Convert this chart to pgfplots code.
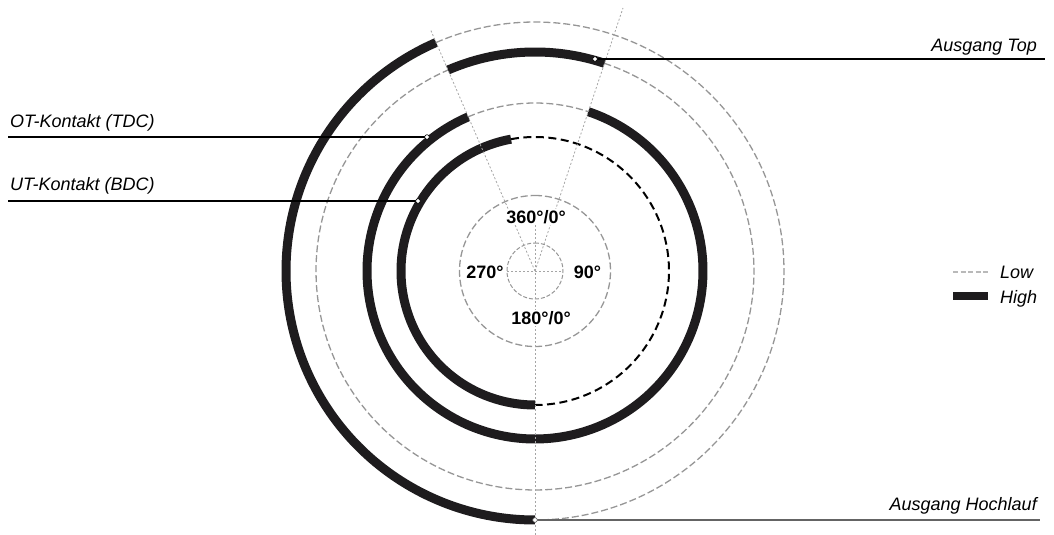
\documentclass[border=0pt]{standalone}
\usepackage{fontspec}
\setmainfont{Liberation Sans}
\usepackage{pgfplots}
\pgfplotsset{compat=1.18}
\definecolor{thickc}{RGB}{30,28,30}
\definecolor{lowgray}{RGB}{150,150,150}
\definecolor{guidec}{RGB}{165,165,165}
\definecolor{leggray}{RGB}{185,185,185}
\newcommand{\lab}{\fontsize{18bp}{21bp}\selectfont\itshape}
\newcommand{\degf}{\fontsize{18bp}{21bp}\selectfont\bfseries}
\begin{document}
\begin{tikzpicture}
\useasboundingbox (0,0) rectangle (1054bp,535bp);
\begin{axis}[x=1bp,y=1bp,xmin=-535,xmax=519,ymin=-264,ymax=271,
  hide axis, clip=false, at={(0,0)}, anchor=south west,
  variable=\t, samples=181,
  high/.style={color=thickc, line width=9bp},
  low/.style={color=lowgray, line width=1.3bp, dash pattern=on 7bp off 3bp},
  lowblack/.style={black, line width=2bp, dash pattern=on 8bp off 4.5bp},
  guide/.style={guidec, line width=0.8bp, dash pattern=on 2bp off 2bp},
  leader/.style={black, line width=1.2bp, mark=*, mark size=2.3bp,
     mark options={fill=white, solid, line width=0.6bp}, mark indices={1}},
]
% --- Low (state) segments
\addplot[low, domain=336.6:540] ({249*sin(\t)},{249*cos(\t)});   % Ausgang Hochlauf low
\addplot[low, domain=18.5:336.6] ({219*sin(\t)},{219*cos(\t)});  % Ausgang Top low
\addplot[low, domain=336.6:378.5] ({168*sin(\t)},{168*cos(\t)}); % OT low
\addplot[lowblack, domain=349.7:540] ({134*sin(\t)},{134*cos(\t)}); % UT low
\addplot[low, domain=0:360] ({75.5*sin(\t)},{75.5*cos(\t)});
\addplot[low, line width=1bp, dash pattern=on 4bp off 2bp, domain=0:360] ({28*sin(\t)},{28*cos(\t)});
% --- High (state) segments
\addplot[high, domain=180:336.6] ({249*sin(\t)},{249*cos(\t)});
\addplot[high, domain=336.6:378.5] ({219*sin(\t)},{219*cos(\t)});
\addplot[high, domain=18.5:336.6] ({168*sin(\t)},{168*cos(\t)});
\addplot[high, domain=180:349.7] ({134*sin(\t)},{134*cos(\t)});
% --- guide lines
\addplot[guide] coordinates {(0,0) (-104.5,241.4)};
\addplot[guide] coordinates {(0,0) (88,263)};
\addplot[guide] coordinates {(0,46) (0,-264)};
\addplot[guide] coordinates {(-28,0) (28,0)};
% --- degree labels
\node[font=\degf, anchor=base, fill=white, inner sep=1bp] at (axis cs:1,47.5) {360°/0°};
\node[font=\degf, anchor=base, inner sep=0bp] at (axis cs:-50,-7.5) {270°};
\node[font=\degf, anchor=base, inner sep=0bp] at (axis cs:52.5,-7.5) {90°};
\node[font=\degf, anchor=base, fill=white, inner sep=1bp] at (axis cs:6,-53.5) {180°/0°};
% --- leaders
\addplot[leader] coordinates {(60,212) (510,212)};
\addplot[leader] coordinates {(-108,134) (-527,134)};
\addplot[leader] coordinates {(-117,70) (-527,70)};
\addplot[leader, color={rgb,255:red,100;green,100;blue,100}] coordinates {(0,-249) (505,-249)};
\node[font=\lab, anchor=base east, inner sep=0bp] at (axis cs:502,219) {Ausgang Top};
\node[font=\lab, anchor=base west, inner sep=0bp] at (axis cs:-525,143) {OT-Kontakt (TDC)};
\node[font=\lab, anchor=base west, inner sep=0bp] at (axis cs:-525,81) {UT-Kontakt (BDC)};
\node[font=\lab, anchor=base east, inner sep=0bp] at (axis cs:502,-239) {Ausgang Hochlauf};
% --- legend
\addplot[leggray, line width=1.5bp, dash pattern=on 5bp off 2.5bp] coordinates {(418,-1) (453,-1)};
\addplot[thickc, line width=8bp] coordinates {(418,-25) (453,-25)};
\node[font=\lab, anchor=base west, inner sep=0bp] at (axis cs:465,-7.5) {Low};
\node[font=\lab, anchor=base west, inner sep=0bp] at (axis cs:465,-32) {High};
\end{axis}
\end{tikzpicture}
\end{document}
